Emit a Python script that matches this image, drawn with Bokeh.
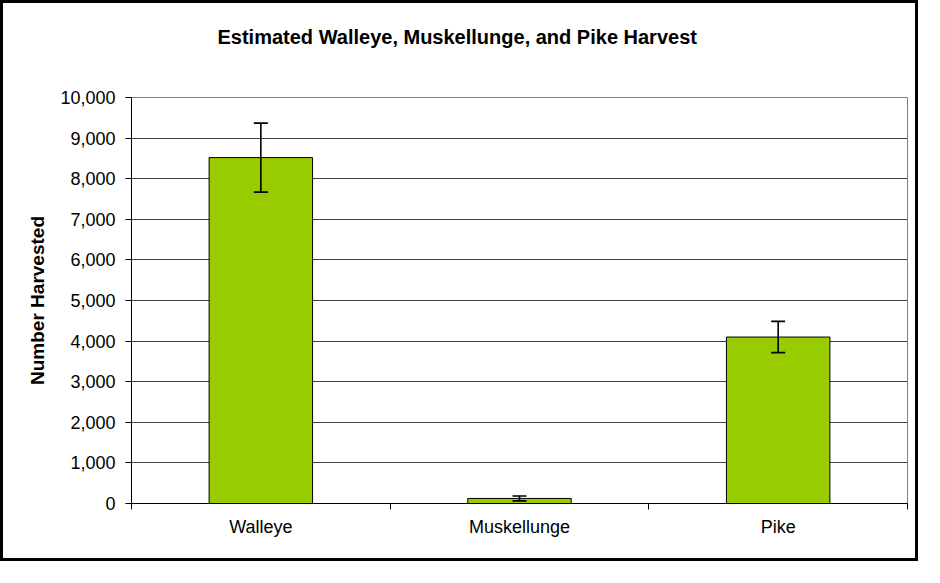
from bokeh.plotting import figure
from bokeh.models import (ColumnDataSource, Range1d, FixedTicker, NumeralTickFormatter,
                          Whisker, TeeHead, Title)
from bokeh.embed import file_html
from bokeh.resources import INLINE

species = ["Walleye", "Muskellunge", "Pike"]
harvest = [8520, 125, 4100]
error = [850, 60, 385]
y_ticks = [0, 1000, 2000, 3000, 4000, 5000, 6000, 7000, 8000, 9000, 10000]
title_text = "Estimated Walleye, Muskellunge, and Pike Harvest"

FONT = "Liberation Sans"

xs = [i + 0.5 for i in range(len(species))]
src = ColumnDataSource(dict(
    x=xs,
    top=harvest,
    upper=[h + e for h, e in zip(harvest, error)],
    lower=[h - e for h, e in zip(harvest, error)],
))

W, H = 918, 561
ML, MR, MT, MB = 128, 14, 94, 61
p = figure(width=W, height=H, output_backend="svg", toolbar_location=None,
           x_range=Range1d(0, len(species)), y_range=Range1d(0, 10000),
           min_border_left=ML, min_border_right=MR, min_border_top=MT, min_border_bottom=MB)
p.styles = {"border": "3px solid black"}

p.background_fill_color = "white"
p.border_fill_color = "white"
p.outline_line_color = "#808080"
p.outline_line_width = 1

# spacer panel between the frame and the title
spacer = Title(text=" ", text_font_size="2px", standoff=41)
p.add_layout(spacer, "above")
title = Title(text=title_text, align="left", offset=86, standoff=10,
              text_font=FONT, text_font_size="20px", text_font_style="bold",
              text_color="black")
p.add_layout(title, "above")

p.vbar(x="x", top="top", width=0.4, bottom=0, source=src,
       fill_color="#99CC00", line_color="black", line_width=1)

w = Whisker(base="x", upper="upper", lower="lower", source=src,
            line_color="black", line_width=1.6, level="overlay",
            upper_head=TeeHead(size=14, line_color="black", line_width=1.6),
            lower_head=TeeHead(size=14, line_color="black", line_width=1.6))
p.add_layout(w)

# grid
p.xgrid.visible = False
p.ygrid.ticker = FixedTicker(ticks=y_ticks)
p.ygrid.grid_line_color = "#404040"
p.ygrid.grid_line_width = 1

# y axis
p.yaxis.ticker = FixedTicker(ticks=y_ticks)
p.yaxis.formatter = NumeralTickFormatter(format="0,0")
p.yaxis.axis_label = "Number Harvested"
p.yaxis.axis_label_text_font = FONT
p.yaxis.axis_label_text_font_size = "19px"
p.yaxis.axis_label_text_font_style = "bold"
p.yaxis.axis_label_text_color = "black"
p.yaxis.axis_label_standoff = 9
p.yaxis.major_label_text_font = FONT
p.yaxis.major_label_text_font_size = "18px"
p.yaxis.major_label_text_color = "black"
p.yaxis.major_label_standoff = 10
p.yaxis.major_tick_out = 6
p.yaxis.major_tick_in = 0
p.yaxis.minor_tick_out = 0
p.yaxis.minor_tick_in = 0
p.yaxis.axis_line_color = "black"
p.yaxis.major_tick_line_color = "black"

# x axis: labels at centers, ticks at category boundaries
p.xaxis.ticker = FixedTicker(ticks=xs, minor_ticks=list(range(len(species) + 1)))
p.xaxis.major_label_overrides = {x: s for x, s in zip(xs, species)}
p.xaxis.major_label_text_font = FONT
p.xaxis.major_label_text_font_size = "18px"
p.xaxis.major_label_text_color = "black"
p.xaxis.major_label_standoff = 7
p.xaxis.major_tick_out = 0
p.xaxis.major_tick_in = 0
p.xaxis.minor_tick_out = 6
p.xaxis.minor_tick_in = 0
p.xaxis.minor_tick_line_color = "black"
p.xaxis.axis_line_color = "black"

open("out.html", "w").write(file_html(p, INLINE))
